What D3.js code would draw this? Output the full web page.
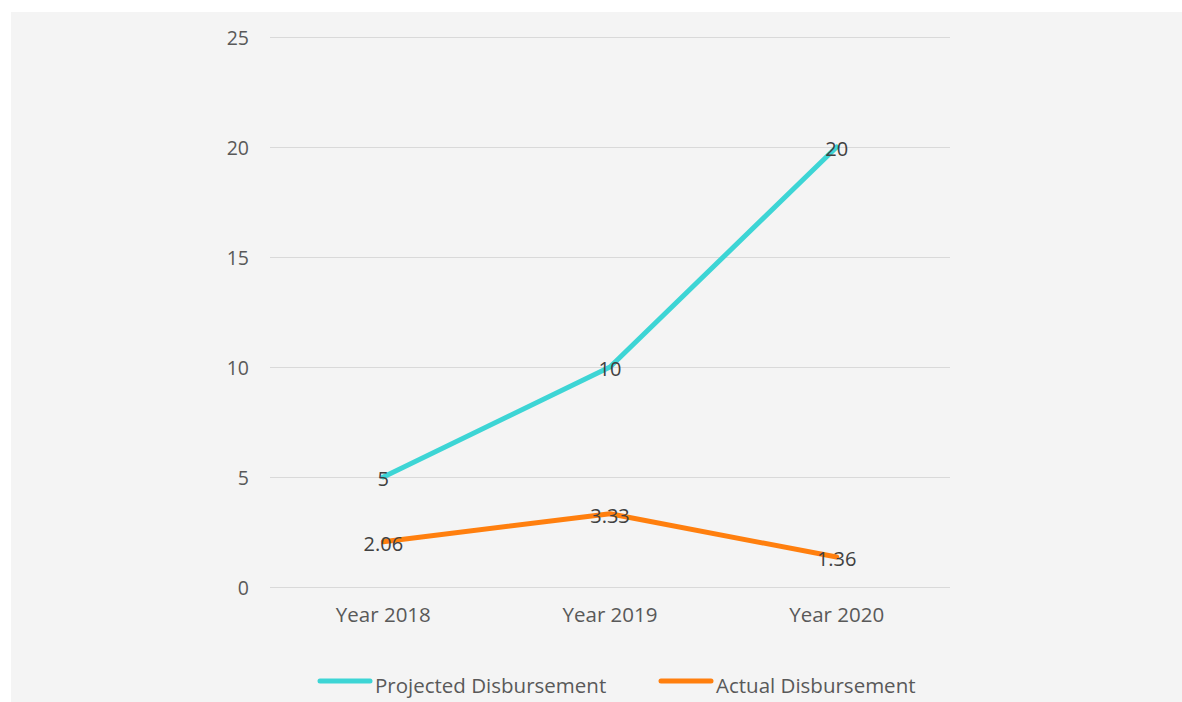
<!DOCTYPE html>
<html><head><meta charset="utf-8">
<script src="https://cdn.jsdelivr.net/npm/d3@7"></script>
<style>body{margin:0;background:#fff;} text{font-family:"Open Sans", sans-serif;}</style>
</head><body><svg id="c" width="1182" height="702"></svg>
<script>
const categories = ["Year 2018", "Year 2019", "Year 2020"];
const projected = [5, 10, 20];
const actual = [2.06, 3.33, 1.36];
const yTicks = [0, 5, 10, 15, 20, 25];
const seriesNames = ["Projected Disbursement", "Actual Disbursement"];
const colors = ["#3dd5d5", "#ff7f0e"];

const svg = d3.select("#c");
svg.append("rect").attr("x", 11).attr("y", 12).attr("width", 1171).attr("height", 690).attr("fill", "#f4f4f4");

const x = d3.scaleBand().domain(categories).range([270, 950]);
const y = d3.scaleLinear().domain([0, 25]).range([587, 37]);

const grid = svg.append("g");
grid.selectAll("line").data(yTicks).join("line")
  .attr("x1", 270).attr("x2", 950)
  .attr("y1", d => y(d) + 0.5).attr("y2", d => y(d) + 0.5)
  .attr("stroke", "#d9d9d9").attr("stroke-width", 1);

const yAxis = svg.append("g").attr("transform", "translate(270,0)")
  .call(d3.axisLeft(y).tickValues(yTicks).tickSize(0).tickPadding(21));
yAxis.select(".domain").remove();
yAxis.selectAll("text").attr("font-size", 19.5).attr("fill", "#595959").attr("font-family", "Open Sans").attr("dy", "0.4em");

const xAxis = svg.append("g").attr("transform", "translate(0,587)")
  .call(d3.axisBottom(x).tickSize(0).tickPadding(20));
xAxis.select(".domain").remove();
xAxis.selectAll("text").attr("font-size", 20.5).attr("fill", "#595959").attr("font-family", "Open Sans");

const line = d3.line().x((d, i) => x(categories[i]) + x.bandwidth() / 2).y(d => y(d));
[projected, actual].forEach((s, k) => {
  svg.append("path").datum(s).attr("d", line).attr("fill", "none")
    .attr("stroke", colors[k]).attr("stroke-width", 5).attr("stroke-linejoin", "round").attr("stroke-linecap", "round");
});
[projected, actual].forEach((s, k) => {
  svg.append("g").selectAll("text").data(s).join("text")
    .attr("x", (d, i) => x(categories[i]) + x.bandwidth() / 2)
    .attr("y", d => y(d))
    .attr("dy", "0.45em")
    .attr("text-anchor", "middle")
    .attr("font-size", 20).attr("fill", "#404040")
    .text(d => d);
});

const legendX = [318, 659];
seriesNames.forEach((n, k) => {
  const g = svg.append("g").attr("transform", `translate(${legendX[k]},681)`);
  g.append("line").attr("x1", 2).attr("x2", 52).attr("y1", 0).attr("y2", 0)
    .attr("stroke", colors[k]).attr("stroke-width", 5).attr("stroke-linecap", "round");
  g.append("text").attr("x", 57).attr("y", 5).attr("dy", "0.35em")
    .attr("font-size", 20.5).attr("fill", "#595959").text(n);
});
</script></body></html>
